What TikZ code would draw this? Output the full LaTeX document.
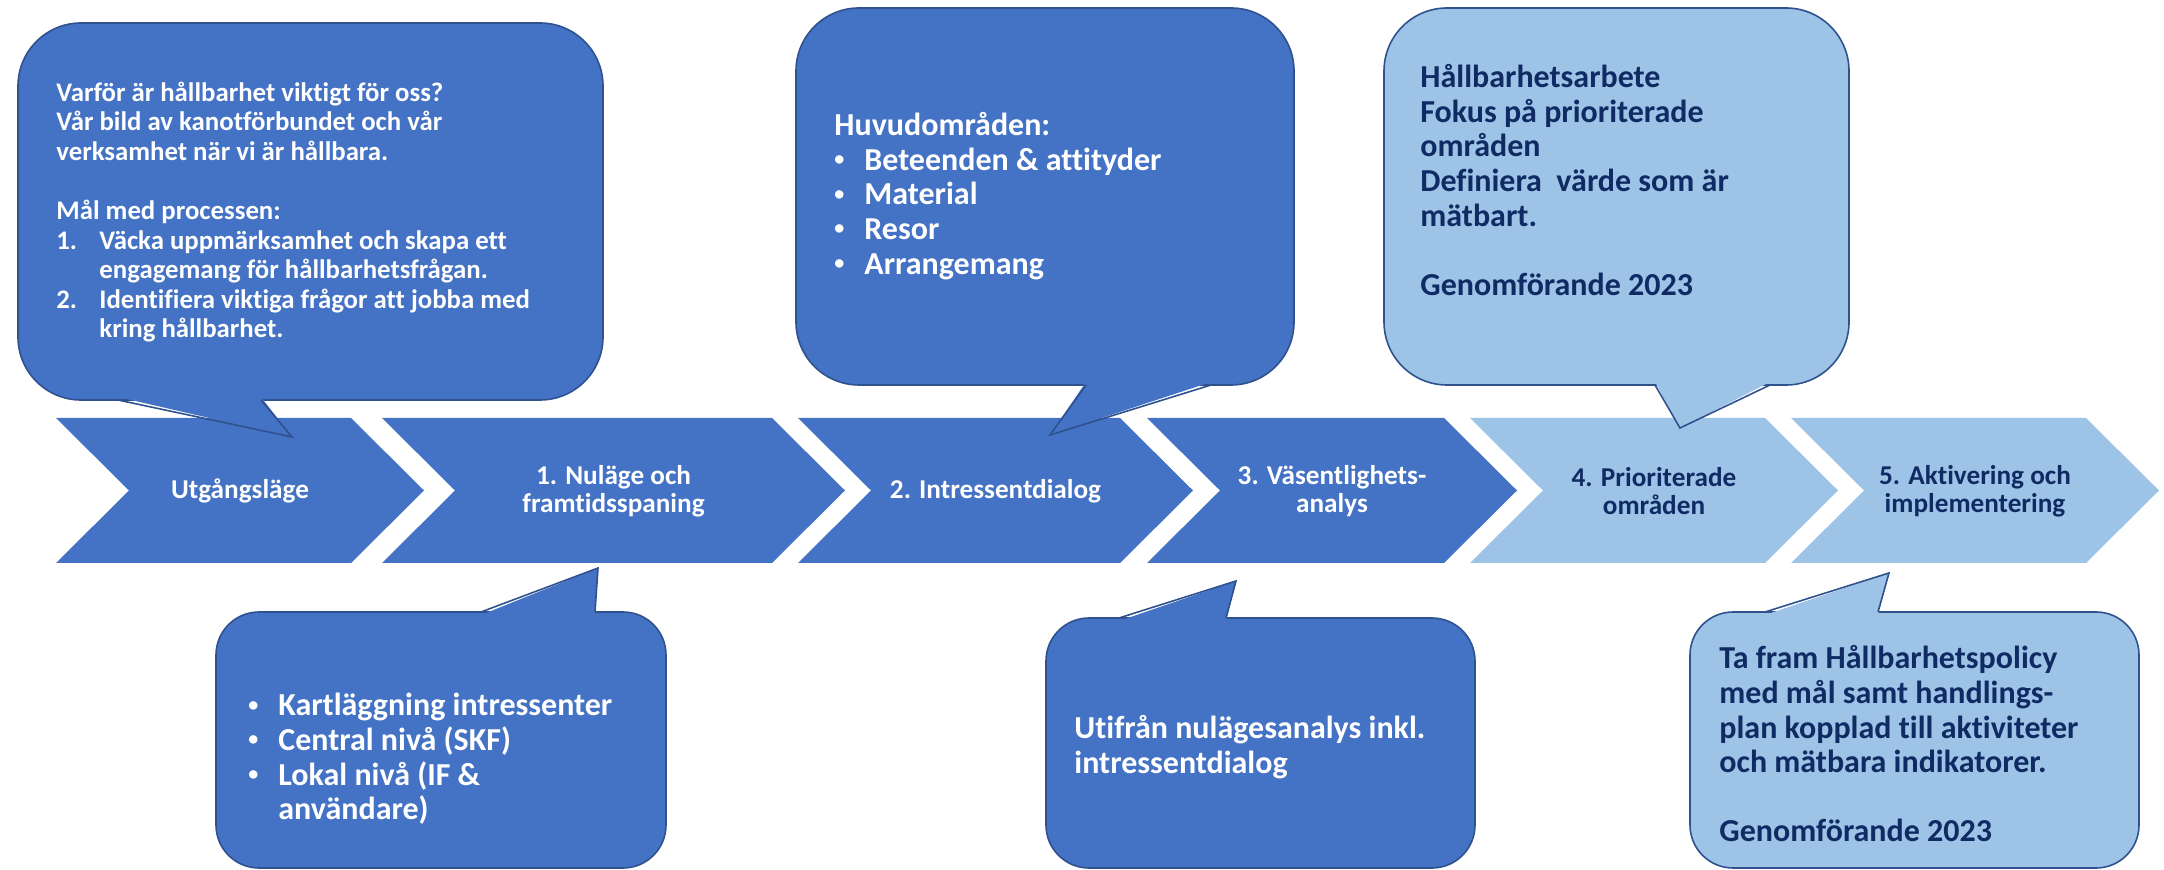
\documentclass[tikz,border=0pt]{standalone}
\usepackage{fontspec}
\setmainfont{Carlito}[Ligatures={NoCommon}]

\definecolor{kdark}{HTML}{4472C4}
\definecolor{klight}{HTML}{9DC3E6}
\definecolor{kline}{HTML}{2F528F}
\definecolor{knavy}{HTML}{102A63}

\newcommand\chevfont{\bfseries\fontsize{13.6}{14}\selectfont}
\newcommand\smallfont{\bfseries\fontsize{13.4}{14.8}\selectfont}
\newcommand\bigfont{\bfseries\fontsize{16}{17.3}\selectfont}
\newcommand\itm{\makebox[15pt][l]{\raisebox{0.15em}{\fontsize{10}{10}\selectfont•}}}
\newcommand\num[1]{\makebox[21.5pt][l]{#1}}

\tikzset{
  bubble/.style={draw=kline, line width=0.8pt},
  bigbubble/.style={bubble, rounded corners=31.5pt},
  smallbubble/.style={bubble, rounded corners=21.5pt},
  chevtext/.style={align=center, inner sep=0pt, font=\chevfont},
  bubbletext/.style={anchor=west, align=left, inner sep=0pt},
}

\begin{document}
\begin{tikzpicture}[x=0.5pt, y=-0.5pt]
  \useasboundingbox (0,0) rectangle (2164,870);

  % process steps
  \foreach \l/\r/\f/\tc/\n/\t in {
      56/351/kdark/white/utg/{Utgångsläge},
      382/772/kdark/white/nul/{1. Nuläge och\\framtidsspaning},
      798/1120/kdark/white/dia/{2. Intressentdialog},
      1147/1444/kdark/white/vas/{3. Väsentlighets-\\analys},
      1470/1765/klight/knavy/pri/{4. Prioriterade\\områden},
      1791/2086/klight/knavy/akt/{5. Aktivering och\\implementering}} {
    \fill[\f] (\l,418) -- (\r,418) -- (\r+73,490.5) -- (\r,563)
      -- (\l,563) -- (\l+73,490.5) -- cycle;
    \node[chevtext, text=\tc] (\n) at ({(\l+\r+73)/2},491) {\t};
  }

  % speech bubbles above
  \draw[bigbubble, fill=kdark] (18,23) rectangle (603,400);
  \fill[kdark] (118,397) -- (292,437) -- (261,397) -- cycle;
  \draw[bubble] (118,400) -- (292,437) -- (261,400);

  \draw[bigbubble, fill=kdark] (796,8) rectangle (1294,385);
  \fill[kdark] (1086,382) -- (1050,435) -- (1211,382) -- cycle;
  \draw[bubble] (1086,385) -- (1050,435) -- (1211,385);

  \draw[bigbubble, fill=klight] (1384,8) rectangle (1849,385);
  \fill[klight] (1655,382) -- (1680,428) -- (1770,382) -- cycle;
  \draw[bubble] (1655,385) -- (1680,428) -- (1770,385);

  % speech bubbles below
  \draw[smallbubble, fill=kdark] (216,612) rectangle (666,868);
  \fill[kdark] (481,615) -- (598,568) -- (595,615) -- cycle;
  \draw[bubble] (481,612) -- (598,568) -- (595,612);

  \draw[smallbubble, fill=kdark] (1046,618) rectangle (1475,868);
  \fill[kdark] (1119,621) -- (1236,581) -- (1226,621) -- cycle;
  \draw[bubble] (1119,618) -- (1236,581) -- (1226,618);

  \draw[smallbubble, fill=klight] (1690,612) rectangle (2139,868);
  \fill[klight] (1765,615) -- (1889,573) -- (1878,615) -- cycle;
  \draw[bubble] (1765,612) -- (1889,573) -- (1878,612);

  % bubble texts
  \node[bubbletext, font=\smallfont, text=white] (why) at (56,212) {%
    Varför är hållbarhet viktigt för oss?\\
    Vår bild av kanotförbundet och vår\\
    verksamhet när vi är hållbara.\\[14.8pt]
    Mål med processen:\\
    \num{1.}Väcka uppmärksamhet och skapa ett\\
    \hspace*{21.5pt}engagemang för hållbarhetsfrågan.\\
    \num{2.}Identifiera viktiga frågor att jobba med\\
    \hspace*{21.5pt}kring hållbarhet.};
  \node[bubbletext, font=\bigfont, text=white] (areas) at (834,196) {%
    Huvudområden:\\
    \itm Beteenden \& attityder\\
    \itm Material\\
    \itm Resor\\
    \itm Arrangemang};
  \node[bubbletext, font=\bigfont, text=knavy] (focus) at (1420,180) {%
    Hållbarhetsarbete\\
    Fokus på prioriterade\\
    områden\\
    Definiera~ värde som är\\
    mätbart.\\[17.3pt]
    Genomförande 2023};
  \node[bubbletext, font=\bigfont, text=white] (map) at (248,759) {%
    \itm Kartläggning intressenter\\
    \itm Central nivå (SKF)\\
    \itm Lokal nivå (IF \&\\
    \hspace*{15pt}användare)};
  \node[bubbletext, font=\bigfont, text=white] (basis) at (1074,747) {%
    Utifrån nulägesanalys inkl.\\
    intressentdialog};
  \node[bubbletext, font=\bigfont, text=knavy] (policy) at (1719,744) {%
    Ta fram Hållbarhetspolicy\\
    med mål samt handlings-\\
    plan kopplad till aktiviteter\\
    och mätbara indikatorer.\\[17.3pt]
    Genomförande 2023};
\end{tikzpicture}
\end{document}
